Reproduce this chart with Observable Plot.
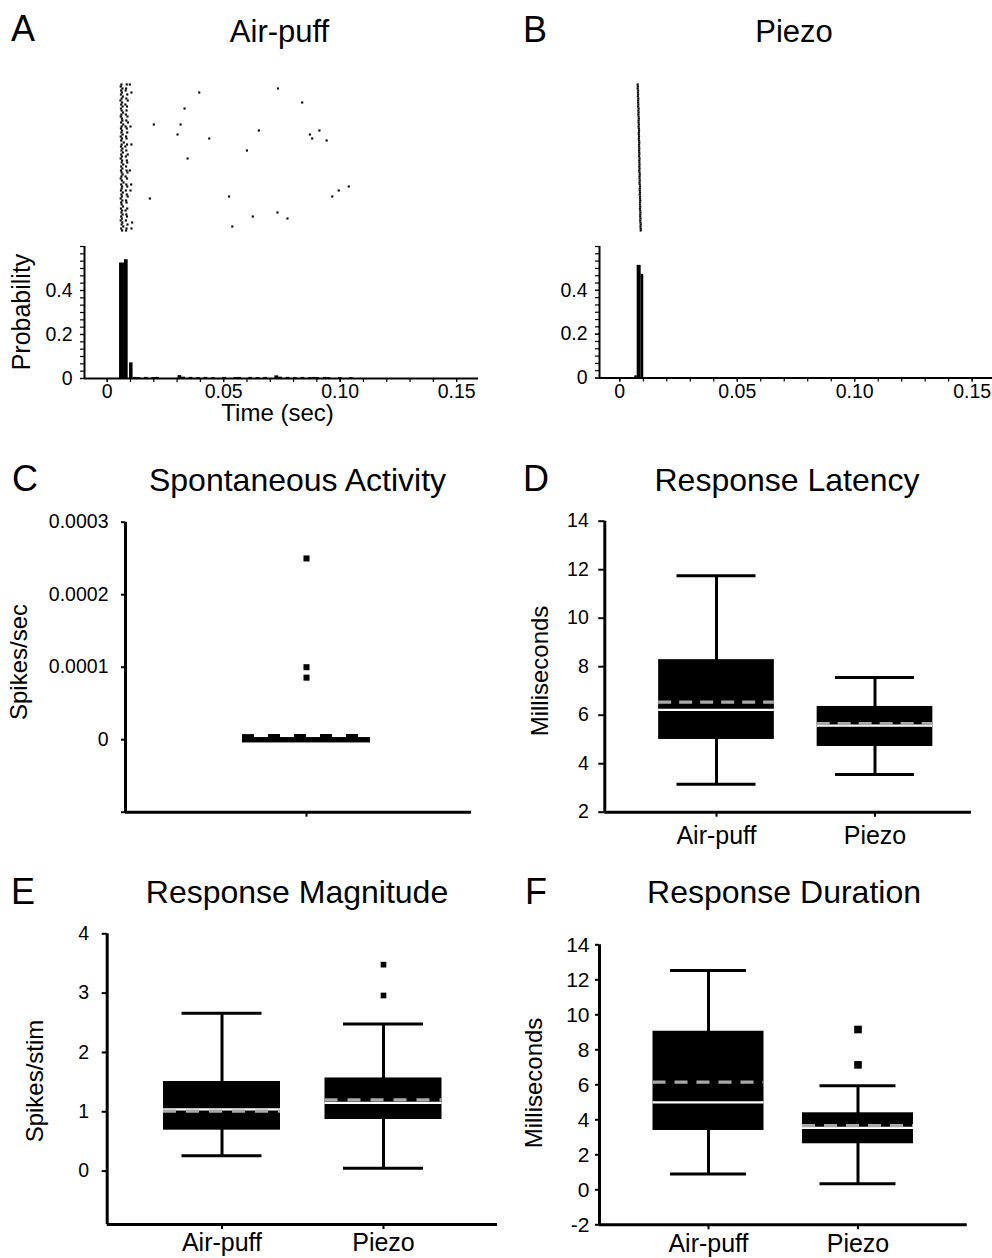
<!DOCTYPE html>
<html>
<head>
<meta charset="utf-8">
<script src="https://cdn.jsdelivr.net/npm/d3@7"></script>
<script src="https://cdn.jsdelivr.net/npm/@observablehq/plot@0.6"></script>
<style>
  body { margin: 0; background: #fff; }
  #fig { position: relative; width: 992px; height: 1258px; overflow: hidden; background: #fff;
         font-family: 'Liberation Sans', Arial, Helvetica, sans-serif; }
  .panel { position: absolute; }
  .panel svg { display: block; overflow: visible; max-width: none; }
  #overlay { position: absolute; left: 0; top: 0; pointer-events: none; }
</style>
</head>
<body>
<div id="fig"></div>
<script>
// ---------------- DATA ----------------
// Raster A (Air-puff): spike times in ms, one row per trial
const rasterAFirst = [6.1, 5.8, 6.5, 6.0, 6.3, 5.9, 6.7, 6.2, 5.7, 6.4,
  6.0, 6.6, 5.9, 6.2, 6.8, 6.1, 5.8, 6.3, 6.5, 6.0,
  6.9, 6.2, 5.9, 6.4, 6.1, 6.6, 5.8, 6.3, 6.0, 7.1,
  6.2, 5.9, 6.5, 6.1, 6.7, 6.0, 6.3, 5.8, 6.4, 6.2,
  6.9, 6.0, 6.5, 5.9, 6.2, 6.6, 6.1, 5.8, 6.3, 7.0,
  6.0, 6.4, 6.2, 5.9, 6.7, 6.1, 6.3, 5.8, 6.5, 6.0,
  6.2, 6.8, 5.9, 6.4, 6.1, 6.6, 6.0, 6.3, 5.8, 6.5,
  6.2, 6.9, 6.0, 6.4];
// second spike per trial (0 = none)
const rasterASecond = [8.4, 0, 8.1, 7.9, 0, 8.6, 0, 8.2, 8.8, 0,
  7.8, 8.5, 0, 8.3, 0, 8.0, 8.7, 0, 8.2, 8.9,
  0, 7.9, 8.4, 0, 8.6, 0, 8.1, 8.3, 0, 0,
  8.5, 7.8, 0, 8.2, 0, 8.8, 8.0, 0, 8.4, 8.6,
  0, 8.1, 0, 8.3, 8.7, 0, 7.9, 8.5, 0, 0,
  8.2, 8.6, 0, 8.0, 0, 8.4, 8.8, 0, 8.1, 8.3,
  0, 0, 8.6, 7.9, 0, 8.2, 8.5, 0, 8.0, 0,
  8.7, 0, 8.3, 8.1];
// third spikes near 10 ms
const rasterAThirdTrial = [1, 5, 22, 31, 44, 51, 54, 70, 73];
const rasterAThirdMs    = [9.7, 10.4, 10.0, 10.4, 9.7, 10.3, 10.0, 10.7, 10.4];
// late scattered spikes
const rasterALateTrial = [3, 5, 10, 13, 21, 21, 24, 24, 26, 26, 28, 28, 29, 34, 38, 52, 54, 57, 58, 57, 65, 67, 68, 72];
const rasterALateMs    = [73.3, 39.5, 83.7, 33.2, 20.0, 31.5, 65.1, 91.1, 87.0, 30.2, 88.0, 43.8, 94.2, 60.0, 34.5, 103.7, 99.4, 96.6, 18.3, 52.3, 73.1, 62.5, 77.4, 53.7];

// Raster B (Piezo): one spike per trial, ms
const rasterBMs = [7.6, 7.7, 7.6, 7.8, 7.7, 7.8, 7.7, 7.9, 7.8, 7.8,
  7.9, 7.8, 8.0, 7.9, 8.0, 7.9, 8.0, 8.1, 8.0, 8.0,
  8.1, 8.0, 8.1, 8.2, 8.1, 8.1, 8.2, 8.1, 8.2, 8.3,
  8.2, 8.2, 8.3, 8.2, 8.3, 8.3, 8.2, 8.4, 8.3, 8.3,
  8.4, 8.3, 8.4, 8.3, 8.4, 8.5, 8.4, 8.4, 8.5, 8.4,
  8.5, 8.6, 8.5, 8.5, 8.6, 8.5, 8.6, 8.6, 8.7, 8.6,
  8.6, 8.7, 8.6, 8.7, 8.8, 8.7, 8.7, 8.8, 8.7, 8.8,
  8.9, 8.8, 8.9, 8.9];

// PSTH A (ms bin edges, probability)
const histAStartMs = [5.3, 7.4, 9.6, 11.2, 12.8, 16.0, 19.2, 20.8, 30.4, 32.0, 35.2, 38.4, 41.6, 44.8, 49.6, 54.4, 56.0, 60.8, 64.0, 67.2, 72.0, 73.6, 76.8, 80.0, 83.2, 86.4, 88.0, 89.6, 92.8, 94.4, 99.2, 104.0];
const histAEndMs   = [7.4, 9.0, 11.1, 12.8, 14.4, 17.6, 20.8, 22.4, 32.0, 33.6, 36.8, 40.0, 43.2, 46.4, 51.2, 56.0, 57.6, 62.4, 65.6, 68.8, 73.6, 75.2, 78.4, 81.6, 84.8, 88.0, 89.6, 91.2, 94.4, 96.0, 100.8, 105.6];
const histAProb    = [0.525, 0.54, 0.071, 0.005, 0.004, 0.005, 0.004, 0.005, 0.013, 0.006, 0.005, 0.004, 0.005, 0.004, 0.005, 0.004, 0.005, 0.005, 0.004, 0.005, 0.012, 0.006, 0.005, 0.004, 0.005, 0.004, 0.005, 0.004, 0.005, 0.004, 0.004, 0.004];
// PSTH B
const histBStartMs = [6.4, 7.4, 9.1];
const histBEndMs   = [7.4, 9.1, 10.2];
const histBProb    = [0.01, 0.514, 0.473];

const histTimeTicks = [0, 0.05, 0.10, 0.15];
const histProbTicks = [0, 0.2, 0.4];

// Box plots
const groups = ["Air-puff", "Piezo"];
// C Spontaneous Activity (single group)
const spontLow = [0], spontQ1 = [0], spontMedian = [0], spontMean = [0.000005], spontQ3 = [0], spontHigh = [0];
const spontOutlierGroup = [1, 1, 1], spontOutlierValue = [0.00025, 0.0001, 0.0000856];
const spontTicks = [-0.0001, 0, 0.0001, 0.0002, 0.0003];
// D Response Latency
const latLow = [3.15, 3.55], latQ1 = [5.0, 4.71], latMedian = [6.22, 5.57], latMean = [6.54, 5.65], latQ3 = [8.29, 6.36], latHigh = [11.75, 7.55];
const latTicks = [2, 4, 6, 8, 10, 12, 14];
// E Response Magnitude
const magLow = [0.26, 0.05], magQ1 = [0.69, 0.87], magMedian = [1.04, 1.15], magMean = [1.01, 1.20], magQ3 = [1.51, 1.57], magHigh = [2.66, 2.48];
const magOutlierGroup = [2, 2], magOutlierValue = [3.48, 2.96];
const magTicks = [0, 1, 2, 3, 4];
// F Response Duration
const durLow = [0.91, 0.34], durQ1 = [3.39, 2.63], durMedian = [5.0, 3.54], durMean = [6.15, 3.67], durQ3 = [9.06, 4.40], durHigh = [12.53, 5.94];
const durOutlierGroup = [2, 2], durOutlierValue = [9.16, 7.14];
const durTicks = [-2, 0, 2, 4, 6, 8, 10, 12, 14];

// Texts
const panelLetters = ["A", "B", "C", "D", "E", "F"];
const panelTitles = ["Air-puff", "Piezo", "Spontaneous Activity", "Response Latency", "Response Magnitude", "Response Duration"];
const axisLabels = ["Probability", "Time (sec)", "Spikes/sec", "Milliseconds", "Spikes/stim", "Milliseconds"];

// ---------------- LAYOUT / STYLE ----------------
const FONT = "'Liberation Sans', Arial, Helvetica, sans-serif";
const baseStyle = {fontFamily: FONT, fontSize: "19px", background: "transparent", overflow: "visible", color: "black"};
const fig = document.getElementById("fig");

function margins(s) {
  return {
    width: s.width, height: s.height,
    marginLeft: s.fx[0] - s.left, marginRight: s.left + s.width - s.fx[1],
    marginTop: s.fy[0] - s.top, marginBottom: s.top + s.height - s.fy[1]
  };
}
function mount(s, chart) {
  const div = document.createElement("div");
  div.className = "panel";
  div.style.left = s.left + "px"; div.style.top = s.top + "px";
  div.style.width = s.width + "px"; div.style.height = s.height + "px";
  div.appendChild(chart);
  fig.appendChild(div);
}

// ---------------- RASTERS ----------------
const spikesA = [];
rasterAFirst.forEach((t, i) => spikesA.push({trial: i + 1, t}));
rasterASecond.forEach((t, i) => { if (t > 0) spikesA.push({trial: i + 1, t}); });
rasterAThirdTrial.forEach((tr, i) => spikesA.push({trial: tr, t: rasterAThirdMs[i]}));
rasterALateTrial.forEach((tr, i) => spikesA.push({trial: tr, t: rasterALateMs[i]}));
const spikesB = rasterBMs.map((t, i) => ({trial: i + 1, t}));

const specRasterA = {left: 0, top: 70, width: 496, height: 170, fx: [84, 478], fy: [84, 232], xDomain: [-0.00975, 0.1594]};
const specRasterB = {left: 500, top: 70, width: 492, height: 170, fx: [599, 992], fy: [84, 232], xDomain: [-0.00864, 0.15866]};

function rasterPlot(s, spikes) {
  return Plot.plot({
    ...margins(s),
    style: baseStyle,
    x: {domain: s.xDomain, axis: null},
    y: {domain: [1, 75], reverse: true, axis: null},
    marks: [
      Plot.dot(spikes, {x: d => d.t / 1000, y: "trial", symbol: "square", r: 1.2, fill: "black"})
    ]
  });
}
mount(specRasterA, rasterPlot(specRasterA, spikesA));
mount(specRasterB, rasterPlot(specRasterB, spikesB));

// ---------------- HISTOGRAMS ----------------
const specHistA = {left: 0, top: 230, width: 496, height: 170, fx: [84, 478], fy: [246, 378], xDomain: specRasterA.xDomain};
const specHistB = {left: 500, top: 230, width: 492, height: 170, fx: [599, 992], fy: [246, 377.5], xDomain: specRasterB.xDomain};
const binsA = histAStartMs.map((s, i) => ({x1: s / 1000, x2: histAEndMs[i] / 1000, p: histAProb[i]}));
const binsB = histBStartMs.map((s, i) => ({x1: s / 1000, x2: histBEndMs[i] / 1000, p: histBProb[i]}));

function histPlot(s, bins) {
  const minorY = d3.range(0, 19).map(i => i / 30);
  const minorX = d3.range(0, 16).map(i => i / 100);
  return Plot.plot({
    ...margins(s),
    style: baseStyle,
    x: {domain: s.xDomain, label: null},
    y: {domain: [0, 0.6], label: null},
    marks: [
      Plot.rect(bins, {x1: "x1", x2: "x2", y1: 0, y2: "p", fill: "black"}),
      Plot.ruleX([s.xDomain[0]], {strokeWidth: 2}),
      Plot.ruleY([0], {strokeWidth: 2.2}),
      Plot.axisY({ticks: minorY, tickSize: 4, tickFormat: () => "", strokeWidth: 1.2, label: null}),
      Plot.axisY({ticks: histProbTicks, tickSize: 4, tickPadding: 8, strokeWidth: 1.2,
                  tickFormat: d => d === 0 ? "0" : d.toFixed(1), fontSize: 19.5, label: null}),
      Plot.axisX({ticks: minorX, tickSize: 4, tickFormat: () => "", strokeWidth: 1.2, label: null}),
      Plot.axisX({ticks: histTimeTicks, tickSize: 4, tickPadding: 2, strokeWidth: 1.2,
                  tickFormat: d => d === 0 ? "0" : d.toFixed(2), fontSize: 19.5, label: null})
    ]
  });
}
mount(specHistA, histPlot(specHistA, binsA));
mount(specHistB, histPlot(specHistB, binsB));

// ---------------- BOX PLOTS ----------------
function makeStats(low, q1, median, mean, q3, high) {
  return low.map((l, i) => ({i: i + 1, low: l, q1: q1[i], median: median[i], mean: mean[i], q3: q3[i], high: high[i]}));
}
function makeOutliers(g, v) { return g.map((gi, k) => ({i: gi, v: v[k]})); }

function boxPlot(s, stats, outliers) {
  const c1 = s.centers[0];
  const ppu = s.centers.length > 1 ? s.centers[1] - s.centers[0] : 160;
  const xDomain = [1 - (c1 - s.fx[0]) / ppu, 1 + (s.fx[1] - c1) / ppu];
  const hb = s.boxWidth / 2 / ppu, hc = s.capWidth / 2 / ppu;
  const marks = [
    Plot.ruleX(stats, {x: "i", y1: "low", y2: "high", strokeWidth: 3}),
    Plot.ruleY(stats, {y: "low", x1: d => d.i - hc, x2: d => d.i + hc, strokeWidth: 3}),
    Plot.ruleY(stats, {y: "high", x1: d => d.i - hc, x2: d => d.i + hc, strokeWidth: 3}),
    Plot.rect(stats, {x1: d => d.i - hb, x2: d => d.i + hb, y1: "q1", y2: "q3", fill: "black"})
  ];
  if (s.edgeWidth) {
    marks.push(Plot.ruleY(stats, {y: "q1", x1: d => d.i - hb, x2: d => d.i + hb, strokeWidth: s.edgeWidth}));
    marks.push(Plot.ruleY(stats, {y: "q3", x1: d => d.i - hb, x2: d => d.i + hb, strokeWidth: s.edgeWidth}));
  }
  marks.push(
    Plot.ruleY(stats, {y: "median", x1: d => d.i - hb, x2: d => d.i + hb, stroke: s.medianStroke, strokeWidth: 2.2}),
    Plot.ruleY(stats, {y: "mean", x1: d => d.i - hb, x2: d => d.i + hb, stroke: s.meanStroke,
                       strokeWidth: s.meanWidth, strokeDasharray: s.meanDash}),
    Plot.dot(outliers, {x: "i", y: "v", symbol: "square", r: s.outlierR, fill: "black"}),
    Plot.ruleX([xDomain[0]], {strokeWidth: 3}),
    Plot.ruleY([s.yDomain[0]], {strokeWidth: 3}),
    Plot.axisY({ticks: s.yTicks, tickSize: s.yTickSize, tickPadding: s.yTickPadding, strokeWidth: 2,
                tickFormat: s.yFormat, fontSize: s.yFontSize, label: null}),
    Plot.axisX({ticks: s.centers.map((c, k) => k + 1), tickSize: 5, tickPadding: s.xTickPadding, strokeWidth: 2,
                tickFormat: s.xFormat, fontSize: 25, label: null})
  );
  return Plot.plot({
    ...margins(s),
    style: baseStyle,
    x: {domain: xDomain, label: null},
    y: {domain: s.yDomain, label: null},
    marks
  });
}

const GREY = "#a9a9a9";
const specC = {left: 0, top: 500, width: 496, height: 340, fx: [125, 471], fy: [521.7, 811.7],
  yDomain: [-0.0001, 0.0003], yTicks: spontTicks, yTickSize: 4, yTickPadding: 13, yFontSize: 19.5,
  yFormat: d => d < 0 ? "" : (d === 0 ? "0" : d.toFixed(4)), xFormat: () => "", xTickPadding: 9,
  centers: [306], boxWidth: 128, capWidth: 0, edgeWidth: 5,
  medianStroke: "black", meanStroke: "black", meanWidth: 4, meanDash: "12,14", outlierR: 3.4};
const specD = {left: 500, top: 500, width: 492, height: 360, fx: [604.3, 971], fy: [520.7, 811.7],
  yDomain: [2, 14], yTicks: latTicks, yTickSize: 6, yTickPadding: 10, yFontSize: 19.5,
  yFormat: d => String(d), xFormat: i => groups[i - 1], xTickPadding: 9,
  centers: [716, 874.5], boxWidth: 115.7, capWidth: 79, edgeWidth: 0,
  medianStroke: "white", meanStroke: GREY, meanWidth: 3.3, meanDash: "13,8", outlierR: 3.4};
const specE = {left: 0, top: 910, width: 500, height: 348, fx: [106.7, 497], fy: [933.3, 1224],
  yDomain: [-0.9, 4], yTicks: magTicks, yTickSize: 5, yTickPadding: 13, yFontSize: 19.5,
  yFormat: d => String(d), xFormat: i => groups[i - 1], xTickPadding: 4,
  centers: [221.5, 383], boxWidth: 117, capWidth: 80, edgeWidth: 0,
  medianStroke: "white", meanStroke: GREY, meanWidth: 3.3, meanDash: "13,10", outlierR: 3.2};
const specF = {left: 500, top: 910, width: 492, height: 348, fx: [599, 966.7], fy: [944.3, 1224.3],
  yDomain: [-2, 14], yTicks: durTicks, yTickSize: 4, yTickPadding: 6, yFontSize: 21,
  yFormat: d => String(d), xFormat: i => groups[i - 1], xTickPadding: 4,
  centers: [708, 857.5], boxWidth: 111, capWidth: 76, edgeWidth: 0,
  medianStroke: "white", meanStroke: GREY, meanWidth: 3.3, meanDash: "13,9", outlierR: 4.3};

mount(specC, boxPlot(specC, makeStats(spontLow, spontQ1, spontMedian, spontMean, spontQ3, spontHigh),
                     makeOutliers(spontOutlierGroup, spontOutlierValue)));
mount(specD, boxPlot(specD, makeStats(latLow, latQ1, latMedian, latMean, latQ3, latHigh), []));
mount(specE, boxPlot(specE, makeStats(magLow, magQ1, magMedian, magMean, magQ3, magHigh),
                     makeOutliers(magOutlierGroup, magOutlierValue)));
mount(specF, boxPlot(specF, makeStats(durLow, durQ1, durMedian, durMean, durQ3, durHigh),
                     makeOutliers(durOutlierGroup, durOutlierValue)));

// ---------------- TEXT OVERLAY ----------------
const letterPos = [[11, 41], [523, 41.5], [12, 491], [523, 491], [11, 904], [525, 904]];
const titlePos  = [[279.5, 41.5, 31], [794, 41.5, 31], [297.5, 490.7, 32], [787, 490.7, 32], [297, 903, 32], [784, 903, 32]];
// [x, y, rotate, fontSize]
const axisLabelPos = [[29.5, 312, -90, 25], [277.5, 421, 0, 24], [27, 662, -90, 24], [548, 671, -90, 24], [43, 1081, -90, 24], [542, 1083, -90, 24]];

const overlay = d3.select("#fig").append("svg").attr("id", "overlay")
  .attr("width", 992).attr("height", 1258)
  .style("font-family", FONT);
panelLetters.forEach((t, k) => {
  overlay.append("text").attr("x", letterPos[k][0]).attr("y", letterPos[k][1])
    .attr("font-size", 36).attr("fill", "black").text(t);
});
panelTitles.forEach((t, k) => {
  overlay.append("text").attr("x", titlePos[k][0]).attr("y", titlePos[k][1])
    .attr("font-size", titlePos[k][2]).attr("text-anchor", "middle").attr("fill", "black").text(t);
});
axisLabels.forEach((t, k) => {
  const [x, y, r, fs] = axisLabelPos[k];
  overlay.append("text").attr("transform", `translate(${x},${y}) rotate(${r})`)
    .attr("font-size", fs).attr("text-anchor", "middle").attr("fill", "black").text(t);
});
</script>
</body>
</html>
